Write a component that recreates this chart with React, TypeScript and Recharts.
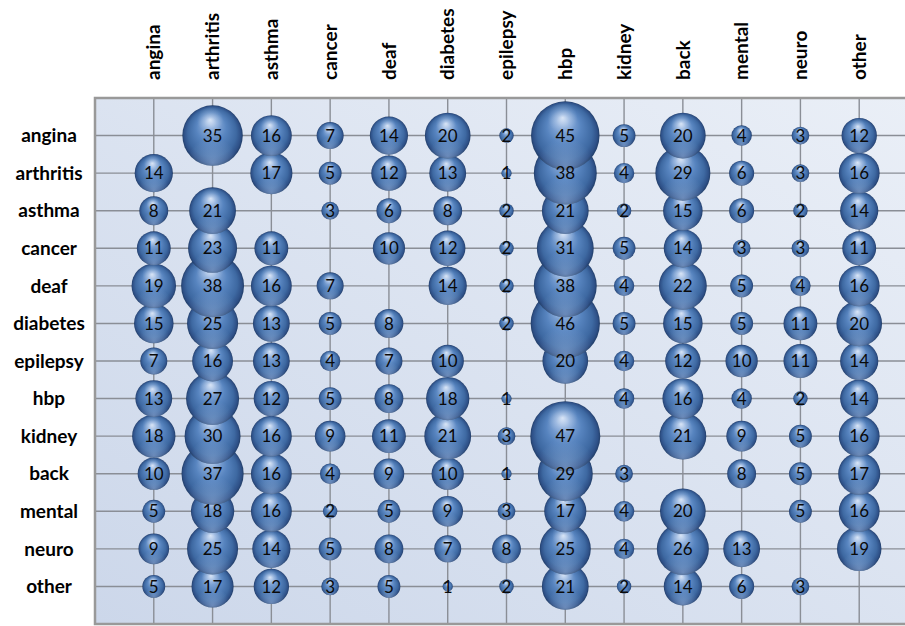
import { CartesianGrid, ReferenceArea, Scatter, ScatterChart, XAxis, YAxis, ZAxis } from "recharts";

const conditions = [
  "angina", "arthritis", "asthma", "cancer", "deaf", "diabetes", "epilepsy",
  "hbp", "kidney", "back", "mental", "neuro", "other",
];

// co-occurrence counts, one row per condition; null on the diagonal
const anginaRow = [null, 35, 16, 7, 14, 20, 2, 45, 5, 20, 4, 3, 12];
const arthritisRow = [14, null, 17, 5, 12, 13, 1, 38, 4, 29, 6, 3, 16];
const asthmaRow = [8, 21, null, 3, 6, 8, 2, 21, 2, 15, 6, 2, 14];
const cancerRow = [11, 23, 11, null, 10, 12, 2, 31, 5, 14, 3, 3, 11];
const deafRow = [19, 38, 16, 7, null, 14, 2, 38, 4, 22, 5, 4, 16];
const diabetesRow = [15, 25, 13, 5, 8, null, 2, 46, 5, 15, 5, 11, 20];
const epilepsyRow = [7, 16, 13, 4, 7, 10, null, 20, 4, 12, 10, 11, 14];
const hbpRow = [13, 27, 12, 5, 8, 18, 1, null, 4, 16, 4, 2, 14];
const kidneyRow = [18, 30, 16, 9, 11, 21, 3, 47, null, 21, 9, 5, 16];
const backRow = [10, 37, 16, 4, 9, 10, 1, 29, 3, null, 8, 5, 17];
const mentalRow = [5, 18, 16, 2, 5, 9, 3, 17, 4, 20, null, 5, 16];
const neuroRow = [9, 25, 14, 5, 8, 7, 8, 25, 4, 26, 13, null, 19];
const otherRow = [5, 17, 12, 3, 5, 1, 2, 21, 2, 14, 6, 3, null];

const rows: (number | null)[][] = [
  anginaRow, arthritisRow, asthmaRow, cancerRow, deafRow, diabetesRow, epilepsyRow,
  hbpRow, kidneyRow, backRow, mentalRow, neuroRow, otherRow,
];

const gridTicks = Array.from({ length: conditions.length + 2 }, (_, i) => i);
const maxCount = 47;

type Cell = { col: number; row: number; count: number };

// bottom rows first, so bubbles of the upper rows overlap the ones below
const cells: Cell[] = [];
for (let r = rows.length - 1; r >= 0; r--) {
  rows[r].forEach((count, c) => {
    if (count != null) cells.push({ col: c + 1, row: r + 1, count });
  });
}

const font = "Lato, 'Open Sans', sans-serif";

function Bubble(props: any) {
  const { cx, cy, width } = props;
  const r = width / 2;
  return (
    <g>
      <circle cx={cx} cy={cy} r={r} fill="url(#bubbleFill)" />
      <circle cx={cx} cy={cy} r={r} fill="url(#bubbleRim)" />
      <circle cx={cx} cy={cy} r={r} fill="url(#bubbleShine)" />
    </g>
  );
}

function BubbleLabel(props: any) {
  const { cx, cy, payload } = props;
  return (
    <text x={cx} y={cy} dy="0.36em" textAnchor="middle" fontFamily={font} fontSize={17} fill="#0a0a0a">
      {payload.count}
    </text>
  );
}

function RowTick(props: any) {
  const { y, payload } = props;
  const name = conditions[payload.value - 1];
  if (!name) return null;
  return (
    <text x={49} y={y} dy="0.35em" textAnchor="middle" fontFamily={font} fontWeight={700} fontSize={19} fill="#000">
      {name}
    </text>
  );
}

function ColumnTick(props: any) {
  const { x, y, payload } = props;
  const name = conditions[payload.value - 1];
  if (!name) return null;
  return (
    <text
      transform={`translate(${x},${y}) rotate(-90)`}
      dy="0.35em"
      textAnchor="start"
      fontFamily={font}
      fontWeight={700}
      fontSize={19}
      fill="#000"
    >
      {name}
    </text>
  );
}

export default function App() {
  return (
    <div style={{ position: "absolute", left: 0, top: 0, width: 905, height: 626, overflow: "hidden", background: "#fff" }}>
      <ScatterChart width={920} height={626} margin={{ top: 0, right: 2, bottom: 2, left: 0 }}>
        <defs>
          <linearGradient id="plotFill" x1="1" y1="0" x2="0" y2="1">
            <stop offset="0%" stopColor="#eaeff7" />
            <stop offset="100%" stopColor="#ccd7ea" />
          </linearGradient>
          <radialGradient id="bubbleFill" cx="0.5" cy="0.5" r="0.5" fx="0.46" fy="0.24">
            <stop offset="0%" stopColor="#c3d6f1" />
            <stop offset="20%" stopColor="#8aacdb" />
            <stop offset="50%" stopColor="#5784bf" />
            <stop offset="80%" stopColor="#3e69a2" />
            <stop offset="94%" stopColor="#2e5087" />
            <stop offset="100%" stopColor="#223e68" />
          </radialGradient>
          <radialGradient id="bubbleRim" cx="0.5" cy="0.95" r="0.42">
            <stop offset="0%" stopColor="#a7c3ea" stopOpacity={0.5} />
            <stop offset="100%" stopColor="#a7c3ea" stopOpacity={0} />
          </radialGradient>
          <radialGradient id="bubbleShine" cx="0.46" cy="0.24" r="0.22">
            <stop offset="0%" stopColor="#ffffff" stopOpacity={0.35} />
            <stop offset="100%" stopColor="#ffffff" stopOpacity={0} />
          </radialGradient>
        </defs>
        <CartesianGrid stroke="#8a8e96" strokeWidth={1.4} fill="url(#plotFill)" fillOpacity={1} />
        <XAxis
          type="number"
          dataKey="col"
          orientation="top"
          domain={[0, 14]}
          ticks={gridTicks}
          interval={0}
          height={98}
          axisLine={false}
          tickLine={false}
          tickSize={0}
          tickMargin={18}
          tick={<ColumnTick />}
        />
        <YAxis
          type="number"
          dataKey="row"
          domain={[0, 14]}
          reversed
          ticks={gridTicks}
          interval={0}
          width={95}
          axisLine={false}
          tickLine={false}
          tick={<RowTick />}
        />
        <ZAxis type="number" dataKey="count" domain={[0, maxCount]} range={[0, Math.PI * 35 * 35]} />
        <ReferenceArea x1={0} x2={14} y1={0} y2={14} fill="none" stroke="#999" strokeWidth={2.5} ifOverflow="visible" />
        <Scatter data={cells} shape={<Bubble />} isAnimationActive={false} />
        <Scatter data={cells} shape={<BubbleLabel />} isAnimationActive={false} />
      </ScatterChart>
    </div>
  );
}
